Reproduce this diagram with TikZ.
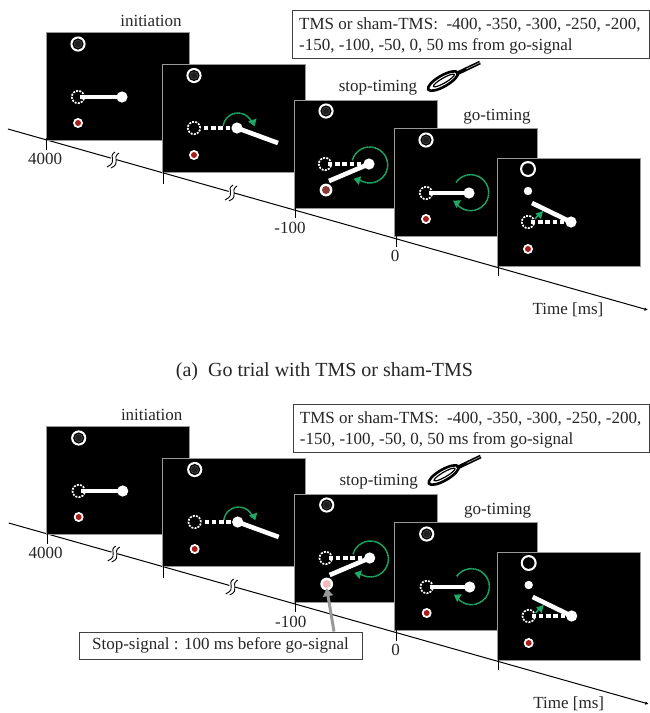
\documentclass[tikz,border=0pt]{standalone}
\usepackage{fontspec}
\setmainfont{Liberation Serif}
\usetikzlibrary{arrows.meta,calc}
\definecolor{goGreen}{HTML}{1FA865}
\definecolor{redDot}{HTML}{A5201C}
\definecolor{stopDim}{HTML}{8A3A36}
\definecolor{stopPink}{HTML}{F6B8B8}
\tikzset{
  x=1pt,y=-1pt,
  lbl/.style={font=\fontsize{17}{20}\selectfont,inner sep=0pt,text=black!85},
  panel/.style={fill=black,draw=black!40,line width=0.8pt},
  axisline/.style={line width=1pt,black},
  tick/.style={line width=1pt,black},
  infobox/.style={draw=black!75,fill=white,line width=0.9pt},
  startring/.style={draw=white,line width=1.7pt,dash pattern=on 2pt off 1.2pt},
  rod/.style={draw=white,line width=4.6pt},
  dashrod/.style={draw=white,line width=4.8pt,dash pattern=on 4.4pt off 2.8pt},
  sweep/.style={draw=goGreen,line width=1.5pt,dash pattern=on 1.3pt off 0.4pt},
  gotip/.style={fill=goGreen,draw=none},
  breakline/.style={black,line width=0.9pt},
  pointer/.style={draw=black!40,line width=3pt,-{Triangle[length=8pt,width=10pt]}},
}
\newcommand{\ringAt}[2]{\fill[white] (#1,#2) circle[radius=7.6pt]; \fill[black] (#1,#2) circle[radius=5.6pt]; \fill[black!72] (#1,#2) circle[radius=4.2pt]; \fill[black!88] (#1,#2) circle[radius=3.4pt];}
\newcommand{\startAt}[2]{\draw[startring] (#1,#2) circle[radius=6.2pt];}
\newcommand{\ballAt}[2]{\fill[white] (#1,#2) circle[radius=5.6pt];}
\newcommand{\dotAt}[2]{\fill[white] (#1,#2) circle[radius=5pt]; \fill[redDot] (#1,#2) circle[radius=3pt];}
\newcommand{\breakAt}[2]{%
  \fill[white] (#1-6,#2+8) -- (#1+2,#2-8) -- (#1+8,#2-7) -- (#1-1,#2+9) -- cycle;
  \draw[breakline] (#1+3,#2-8) .. controls (#1-5,#2-3) and (#1+7,#2+1) .. (#1-5,#2+7);
  \draw[breakline] (#1+7,#2-7) .. controls (#1-1,#2-2) and (#1+10,#2+3) .. (#1-1,#2+8);}
\newcommand{\tipAt}[3]{\fill[gotip] (#1,#2) ++(#3:4.5pt) -- ++(#3+145:8pt) -- ++(#3+270:9pt) -- cycle;}
\newcommand{\trial}[2]{%
  % axis
  \coordinate (axA) at (8,129);
  \coordinate (axB) at (648,310);
  \draw[axisline,-{Latex[length=3.5pt,width=3.5pt]}] (axA) -- (axB);
  \breakAt{112}{160}
  \breakAt{230}{193}
  % panel 1
  \draw[panel] (46,32) rectangle (189,140);
  \ringAt{78}{44}
  \draw[rod] (80,97) -- (122,97);
  \startAt{78}{97}
  \ballAt{122}{97}
  \dotAt{78}{123}
  \draw[tick] (46.5,138) -- (46.5,150);
  % panel 2
  \draw[panel] (162,64) rectangle (305,172);
  \ringAt{194}{75.5}
  \startAt{194}{128}
  \draw[dashrod] (204,128) -- (233,128);
  \draw[rod] (237,128) -- (278,143);
  \ballAt{237}{128}
  \dotAt{194}{155}
  \draw[sweep] (238,128) ++(172:15pt) arc[start angle=172,end angle=20,radius=15pt];
  \tipAt{253}{122}{-70}
  \draw[tick] (163,170) -- (163,184);
  % panel 3
  \draw[panel] (294,100) rectangle (437,208);
  \ringAt{326}{111}
  \startAt{325}{164}
  \draw[dashrod] (328,164) -- (365,164);
  \draw[rod] (369,164) -- (329,181);
  \ballAt{369}{164}
  \draw[sweep] (369.7,165) ++(165:18pt) arc[start angle=165,end angle=-125,radius=18pt];
  \tipAt{358}{180}{165}
  \fill[white] (326,190) circle[radius=6.4pt];
  \node[circle,fill=#1,minimum size=8pt,inner sep=0pt] (stopdot) at (326,190) {};
  \draw[tick] (295,204) -- (295,218);
  % panel 4
  \draw[panel] (394,128) rectangle (537,236);
  \ringAt{426}{140}
  \draw[rod] (429,193) -- (469,193);
  \startAt{426}{193}
  \ballAt{469}{193}
  \dotAt{426}{219}
  \draw[sweep] (470.7,192.7) ++(145:18pt) arc[start angle=145,end angle=-145,radius=18pt];
  \tipAt{457}{203}{150}
  \draw[tick] (396,234) -- (396,247);
  % panel 5
  \draw[panel] (497,158) rectangle (640,266);
  \fill[white] (528,169) circle[radius=8pt]; \fill[black] (528,169) circle[radius=5.8pt];
  \fill[white] (528,191) circle[radius=4.2pt];
  \draw[goGreen,line width=1.5pt] (535,219) -- (539,214);
  \fill[gotip] (543,211) -- (535.5,213.5) -- (541,219) -- cycle;
  \startAt{528}{222}
  \draw[dashrod] (531,222) -- (567,222);
  \draw[rod] (571,222) -- (532,203);
  \ballAt{571}{222}
  \dotAt{528}{249}
  \draw[tick] (498,264) -- (498,276);
  % coil
  \draw[black,line width=2.6pt,rotate around={30:(443,81)}] (443,81) ellipse[x radius=17pt,y radius=5.5pt];
  \draw[black,line width=1.2pt,rotate around={30:(443,81)}] (444,81) ellipse[x radius=12pt,y radius=2.5pt];
  \coordinate (hA) at (456,74);
  \coordinate (hB) at (480,62.5);
  \draw[black,line width=3.8pt] (hA) -- (hB);
  \draw[black!40,line width=.7pt] (466,69.2) -- (hB);
  % labels
  \node[lbl] (init) at (151,21) {initiation};
  \node[lbl] (stoplab) at (378,88) {stop-timing};
  \node[lbl] (golab) at (497,117) {go-timing};
  \node[lbl] (t4000) at (45,159) {4000};
  \node[lbl] (t100) at (290,228) {-100};
  \node[lbl] (t0) at (395,256) {0};
  \node[lbl] (timelab) at (568,310) {Time [ms]};
  % info box
  \node[infobox,anchor=north west,minimum width=356.5pt,minimum height=48pt,inner sep=0pt] (info) at (292,10) {};
  \node[lbl,anchor=west] (infoA) at (299,25) {TMS or sham-TMS:\ \ -400, -350, -300, -250, -200,};
  \node[lbl,anchor=west] (infoB) at (299,46) {-150, -100, -50, 0, 50 ms from go-signal};
}
\begin{document}
\begin{tikzpicture}
\useasboundingbox (0,0) rectangle (649,713);
\fill[white] (0,0) rectangle (649,713);
\begin{scope}[name prefix=a-]
  \trial{stopDim}{}
\end{scope}
\node[lbl,font=\fontsize{20}{24}\selectfont] (caption) at (324.5,372) {(a)\ \ Go trial with TMS or sham-TMS};
\begin{scope}[shift={(0.7,394)},name prefix=b-]
  \trial{stopPink}{}
\end{scope}
\node[infobox,minimum width=283pt,minimum height=27pt,inner sep=0pt] (stopbox) at (220.5,645.5) {};
\node[lbl] (stoptext) at (220.5,645.5) {Stop-signal : 100 ms before go-signal};
\coordinate (pointerstart) at (334,631.5);
\draw[pointer] (pointerstart) -- (b-stopdot.south);
\end{tikzpicture}
\end{document}
